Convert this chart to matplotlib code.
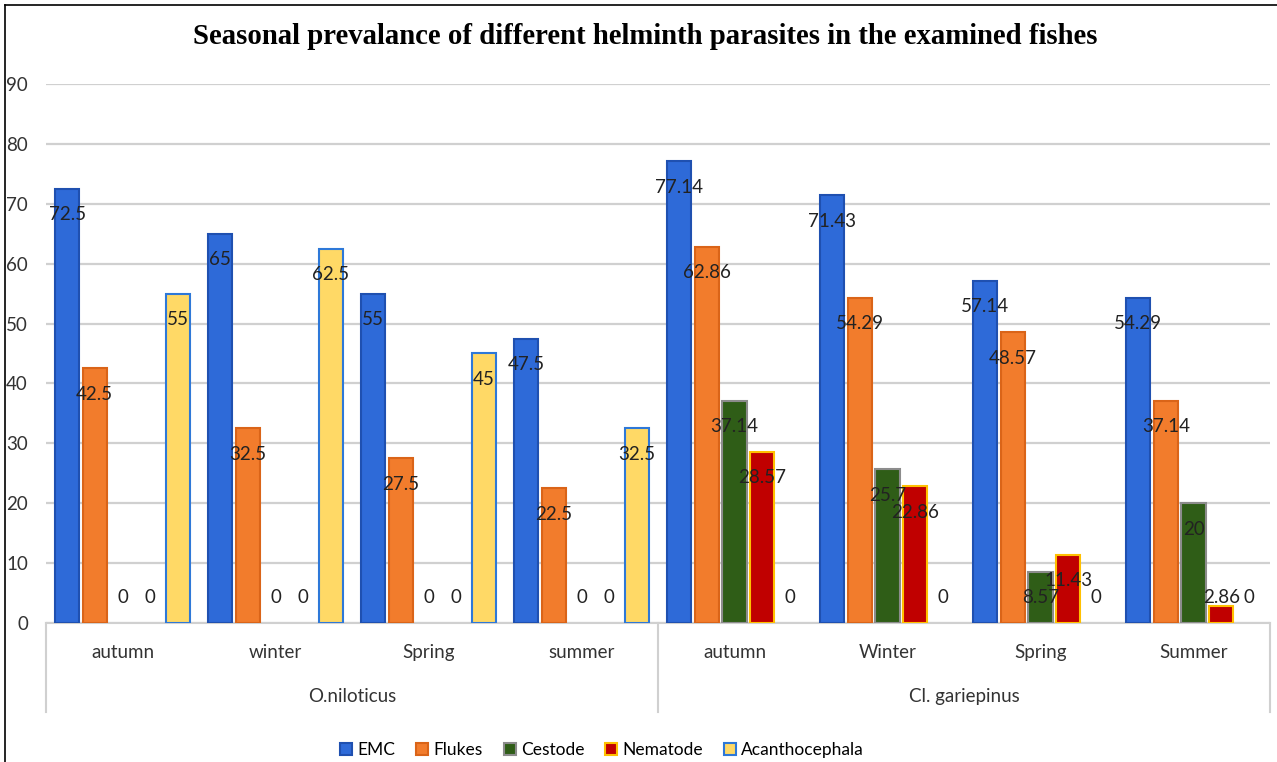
import numpy as np
import matplotlib.pyplot as plt
from matplotlib.patches import Patch
from matplotlib.lines import Line2D

# datos
seasons = ['autumn', 'winter', 'Spring', 'summer', 'autumn', 'Winter', 'Spring', 'Summer']
species = ['O.niloticus', 'Cl. gariepinus']
series = ['EMC', 'Flukes', 'Cestode', 'Nematode', 'Acanthocephala']

emc = [72.5, 65, 55, 47.5, 77.14, 71.43, 57.14, 54.29]
flukes = [42.5, 32.5, 27.5, 22.5, 62.86, 54.29, 48.57, 37.14]
cestode = [0, 0, 0, 0, 37.14, 25.7, 8.57, 20]
nematode = [0, 0, 0, 0, 28.57, 22.86, 11.43, 2.86]
acantho = [55, 62.5, 45, 32.5, 0, 0, 0, 0]

fills = ['#2E6AD8', '#F27C2C', '#2F5D17', '#C00000', '#FFD966']
edges = ['#1F50B0', '#DA6418', '#8C8C8C', '#FFC000', '#2E78D8']

values = [emc, flukes, cestode, nematode, acantho]

plt.rcParams['font.family'] = ['Lato', 'DejaVu Sans']

fig = plt.figure(figsize=(12.77, 7.62), dpi=100)
ax = fig.add_axes([46/1277, 1 - 623/762, (1270-46)/1277, (623-84)/762])

x = np.arange(len(seasons))
step = 0.181
width = 0.157

for i, vals in enumerate(values):
	pos = x + (i - 2) * step
	lw = [1.5 if v > 0 else 0 for v in vals]   # las barras en cero no se dibujan en el original
	ax.bar(pos, vals, width, color=fills[i], edgecolor=edges[i], linewidth=lw, zorder=3)
	for j, v in enumerate(vals):
		ly = max(v - 4.35, 4.2)
		ax.text(pos[j], ly, f'{v:g}', ha='center', va='center', fontsize=13.5, color='#222222', zorder=5)

ax.set_ylim(0, 90)
ax.set_xlim(-0.5, 7.5)
ax.set_yticks(range(0, 91, 10))
ax.tick_params(axis='y', length=0, pad=13, labelsize=13.5, labelcolor='#333333')
ax.yaxis.grid(True, color='#D0D0D0', linewidth=1.6, zorder=0)
ax.set_xticks([])
for s in ['top', 'right', 'left']:
	ax.spines[s].set_visible(False)
ax.spines['bottom'].set_color('#D0D0D0')
ax.spines['bottom'].set_linewidth(1.5)

# eje de categorias en dos niveles
tr = ax.get_xaxis_transform()
for j, s in enumerate(seasons):
	ax.text(j, -0.054, s, transform=tr, ha='center', va='center', fontsize=13.5, color='#333333')
ax.text(1.5, -0.137, species[0], transform=tr, ha='center', va='center', fontsize=13.5, color='#333333')
ax.text(5.5, -0.137, species[1], transform=tr, ha='center', va='center', fontsize=13.5, color='#333333')
for xv in [-0.5, 3.5, 7.5]:
	ax.plot([xv, xv], [0, -0.165], transform=tr, color='#D0D0D0', linewidth=1.5, clip_on=False)

fig.text(645/1277, 1 - 36/762, 'Seasonal prevalance of different helminth parasites in the examined fishes',
	ha='center', va='center', fontsize=20.7, fontweight='bold', family='Liberation Serif')

handles = [Patch(facecolor=fills[i], edgecolor=edges[i], linewidth=1.5) for i in range(5)]
fig.legend(handles, series, loc='center', bbox_to_anchor=(602/1277, 1 - 750/762), ncol=5, frameon=False,
	fontsize=12.5, handlelength=0.7, handleheight=0.7, handletextpad=0.3, columnspacing=1.2)

# borde izquierdo y superior
fig.add_artist(Line2D([5/1277, 5/1277], [0, 1 - 5/762], transform=fig.transFigure, color='black', linewidth=1.2))
fig.add_artist(Line2D([5/1277, 1], [1 - 5/762, 1 - 5/762], transform=fig.transFigure, color='black', linewidth=1.2))

fig.savefig('out.png', dpi=100)
